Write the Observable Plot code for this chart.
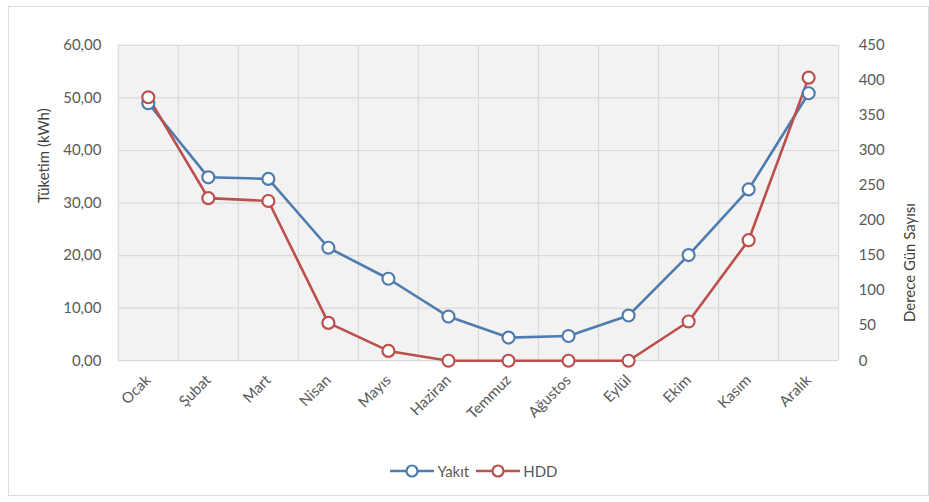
<!DOCTYPE html>
<html>
<head>
<meta charset="utf-8">
<script src="https://cdn.jsdelivr.net/npm/d3@7"></script>
<script src="https://cdn.jsdelivr.net/npm/@observablehq/plot@0.6"></script>
<style>
  html, body { margin: 0; padding: 0; background: #fff; }
  #card {
    position: absolute; left: 8px; top: 6px; width: 921px; height: 490px;
    border: 1px solid #dcdcdc; background: #fff; box-sizing: border-box;
    font-family: Lato, "Open Sans", sans-serif;
  }
  #legend {
    position: absolute; left: 0; right: 0; top: 455px;
    display: flex; justify-content: center; gap: 6px;
    font-size: 15px; color: #595959; padding-left: 10px;
  }
  #legend span.item { display: inline-flex; align-items: center; gap: 2px; }
</style>
</head>
<body>
<div id="card"><div id="chart"></div><div id="legend"></div></div>
<script>
// Aylık yakıt tüketimi (sol eksen) ve ısıtma derece gün sayısı (sağ eksen)
const months = ["Ocak", "Şubat", "Mart", "Nisan", "Mayıs", "Haziran", "Temmuz", "Ağustos", "Eylül", "Ekim", "Kasım", "Aralık"];
const yakit = [49.0, 34.9, 34.6, 21.5, 15.6, 8.4, 4.4, 4.7, 8.6, 20.1, 32.6, 50.9];
const hdd = [376, 232, 228, 54, 14, 0, 0, 0, 0, 56, 172, 404];
const seriesNames = ["Yakıt", "HDD"];
const leftTicks = [0, 10, 20, 30, 40, 50, 60];
const rightTicks = [0, 50, 100, 150, 200, 250, 300, 350, 400, 450];
const leftTitle = "Tüketim (kWh)";
const rightTitle = "Derece Gün Sayısı";

const colors = {"Yakıt": "#4f7cae", "HDD": "#bc4f4c"};

// the right axis (0–450) is drawn on the same y scale as the left (0–60)
const k = 60 / 450;
const idx = months.map((_, i) => i);
const bounds = d3.range(-0.5, months.length, 1);

const rows = [
  ...yakit.map((v, i) => ({series: "Yakıt", i, y: v})),
  ...hdd.map((v, i) => ({series: "HDD", i, y: v * k}))
];

const fmtLeft = d => d.toFixed(2).replace(".", ",");

const chart = Plot.plot({
  width: 921,
  height: 440,
  marginLeft: 109,
  marginRight: 90,
  marginTop: 38,
  marginBottom: 86,
  x: {type: "linear", domain: [-0.5, months.length - 0.5]},
  y: {domain: [0, 60]},
  color: {domain: seriesNames, range: seriesNames.map(s => colors[s])},
  style: {fontFamily: "Lato, 'Open Sans', sans-serif", fontSize: "15px", color: "#595959", background: "transparent", overflow: "visible"},
  marks: [
    Plot.frame({fill: "#f2f2f2", stroke: null}),
    Plot.gridY(leftTicks, {stroke: "#dadada", strokeOpacity: 1, strokeWidth: 1.2}),
    Plot.gridX(bounds, {stroke: "#dadada", strokeOpacity: 1, strokeWidth: 1.2}),
    Plot.axisY(leftTicks, {anchor: "left", tickSize: 0, tickPadding: 17, tickFormat: fmtLeft, label: null}),
    Plot.axisY(rightTicks.map(v => v * k), {anchor: "right", tickSize: 0, tickPadding: 20, tickFormat: d => String(Math.round(d / k)), label: null}),
    Plot.axisX(idx, {anchor: "bottom", tickRotate: -45, tickSize: 0, tickPadding: 17, tickFormat: i => months[i], label: null}),
    Plot.text([leftTitle], {frameAnchor: "left", rotate: -90, dx: -74, fill: "#404040", fontSize: 15}),
    Plot.text([rightTitle], {frameAnchor: "right", rotate: -90, dx: 72, fill: "#404040", fontSize: 15}),
    Plot.line(rows, {x: "i", y: "y", z: "series", stroke: "series", strokeWidth: 2.6}),
    Plot.dot(rows, {x: "i", y: "y", stroke: "series", fill: "#fff", r: 6, strokeWidth: 2.2})
  ]
});
document.getElementById("chart").appendChild(chart);

// legend below the plot
const legend = d3.select("#legend");
for (const s of seriesNames) {
  const item = legend.append("span").attr("class", "item");
  const svg = item.append("svg").attr("width", 46).attr("height", 16);
  svg.append("line").attr("x1", 1).attr("x2", 45).attr("y1", 8).attr("y2", 8)
    .attr("stroke", colors[s]).attr("stroke-width", 2.6);
  svg.append("circle").attr("cx", 23).attr("cy", 8).attr("r", 5.5)
    .attr("fill", "#fff").attr("stroke", colors[s]).attr("stroke-width", 2.2);
  item.append("span").text(s);
}
</script>
</body>
</html>
